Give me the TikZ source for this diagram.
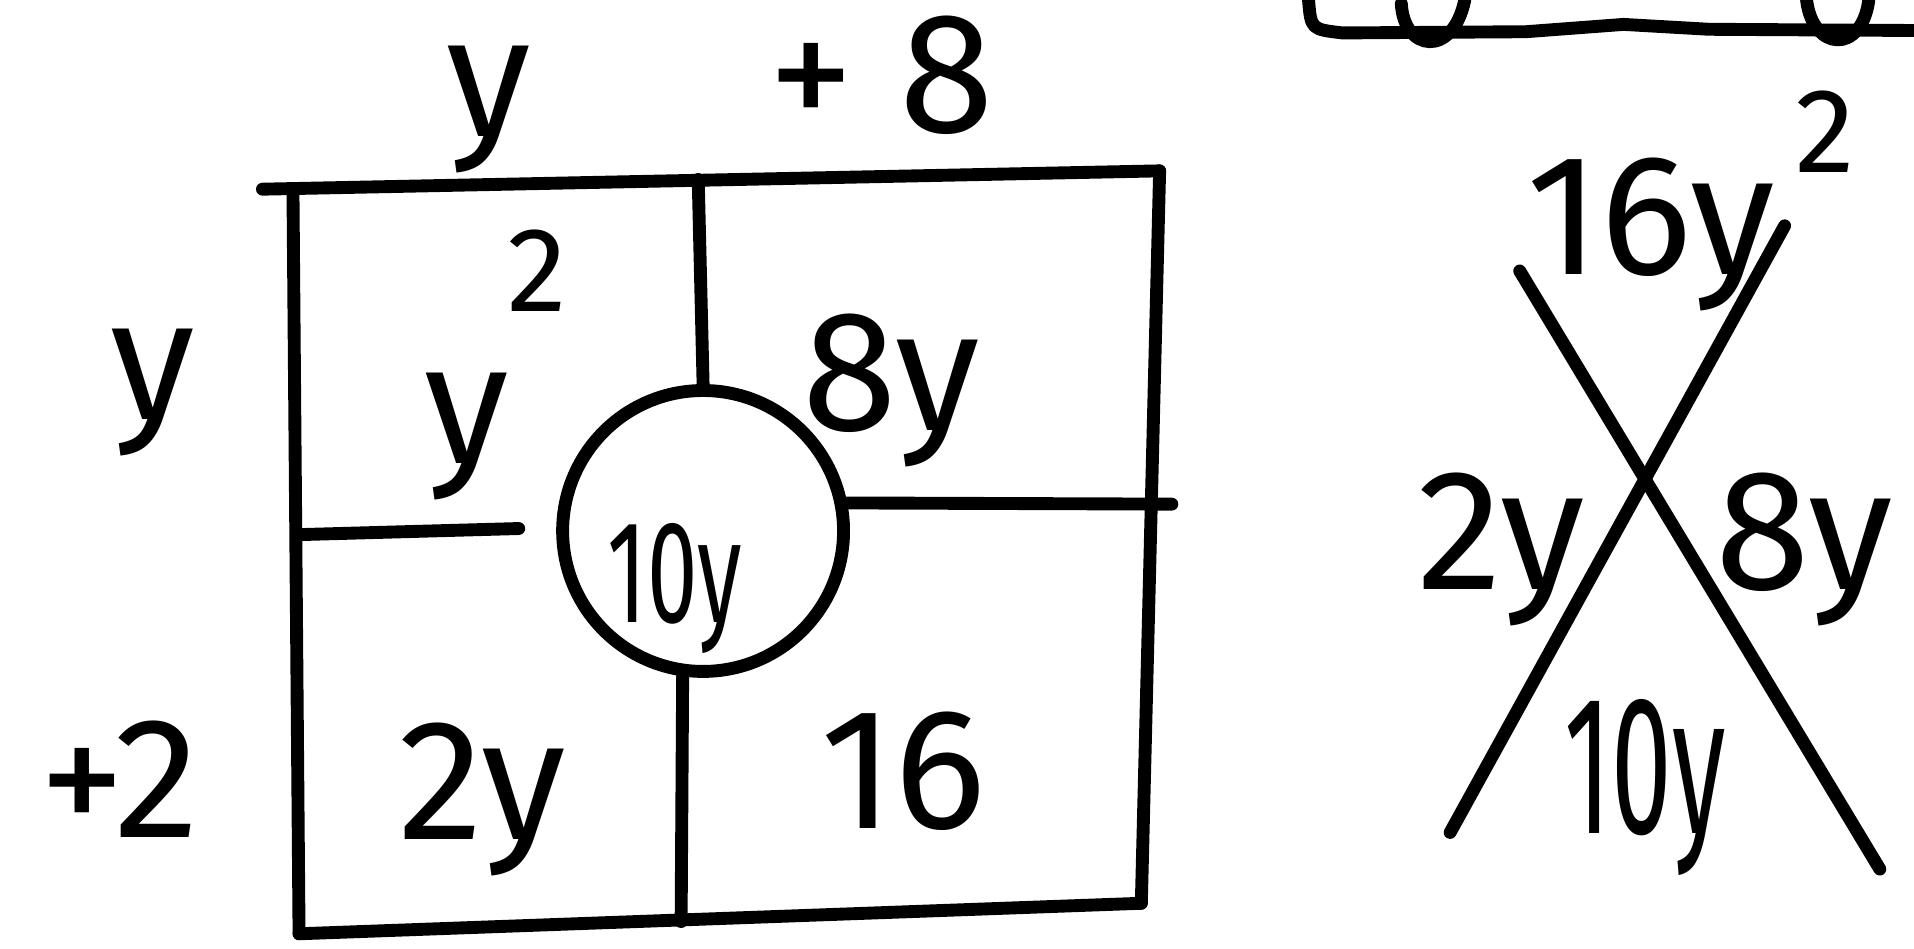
\documentclass[tikz,border=0pt]{standalone}
\usepackage{fontspec}
\setmainfont{Fira Sans}
\begin{document}
\begin{tikzpicture}[x=0.01cm,y=-0.01cm,line width=3pt,line cap=round,line join=round]
			\useasboundingbox (0,0) rectangle (1568,777);
			\tikzstyle{every node}=[inner sep=0pt]
			\tikzstyle{lbl}=[font=\fontsize{40}{44}\selectfont]
			\tikzstyle{expo}=[font=\fontsize{28}{30}\selectfont]
			\newcommand{\narrow}[1]{\scalebox{0.62}[1]{#1}}
			
			\coordinate (tl) at (215,155);
			\coordinate (tr) at (950,140);
			\coordinate (br) at (935,740);
			\coordinate (bl) at (245,765);
			\coordinate (tm) at (572,147);
			\coordinate (bm) at (558,755);
			\coordinate (lm) at (245,438);
			\coordinate (lh) at (425,433);
			\coordinate (rm) at (960,413);
			
			\draw (tl) to (tr);
			\draw (tr) to (br);
			\draw (br) to (bl);
			\draw (bl) to (240,155);
			
			\node[draw,circle,minimum size=2.3cm,line width=3pt] (ring) at (576,435) {};
			\draw (tm) to (ring.north);
			\draw (ring.262) to (bm);
			\draw (lm) to (lh);
			\draw (ring.11) to (rm);
			
			\node[lbl] (topy) at (400,90) {y};
			\node[lbl] (topb) at (722,62) {+ 8};
			\node[lbl] (lefty) at (125,322) {y};
			\node[lbl] (leftb) at (98,638) {+2};
			\node[lbl] (ysq) at (382,358) {y};
			\node[expo] (ysqe) at (440,222) {2};
			\node[lbl] (ey) at (730,320) {8y};
			\node[lbl,font=\fontsize{34}{38}\selectfont] (midy) at (553,482) {\narrow{10y}};
			\node[lbl] (ty) at (395,655) {2y};
			\node[lbl] (sixt) at (740,632) {16};
			
			\coordinate (xa1) at (1245,222);
			\coordinate (xa2) at (1540,712);
			\coordinate (xb1) at (1462,185);
			\coordinate (xb2) at (1188,682);
			\draw (xa1) to (xa2);
			\draw (xb1) to (xb2);
			
			\node[lbl] (prod) at (1352,192) {16y};
			\node[expo] (prode) at (1495,108) {2};
			\node[lbl] (lsum) at (1230,450) {2y};
			\node[lbl] (rsum) at (1478,450) {8y};
			\node[lbl,font=\fontsize{46}{50}\selectfont] (bsum) at (1348,645) {\scalebox{0.55}[1]{10y}};
			
			\draw (1072,0) .. controls (1074,24) .. (1100,27) -- (1250,26) -- (1330,20) -- (1400,24) -- (1568,25);
			\draw (1148,3) .. controls (1150,42) and (1190,48) .. (1200,0);
			\draw (1480,0) .. controls (1485,42) and (1525,45) .. (1531,0);
		\end{tikzpicture}
\end{document}
